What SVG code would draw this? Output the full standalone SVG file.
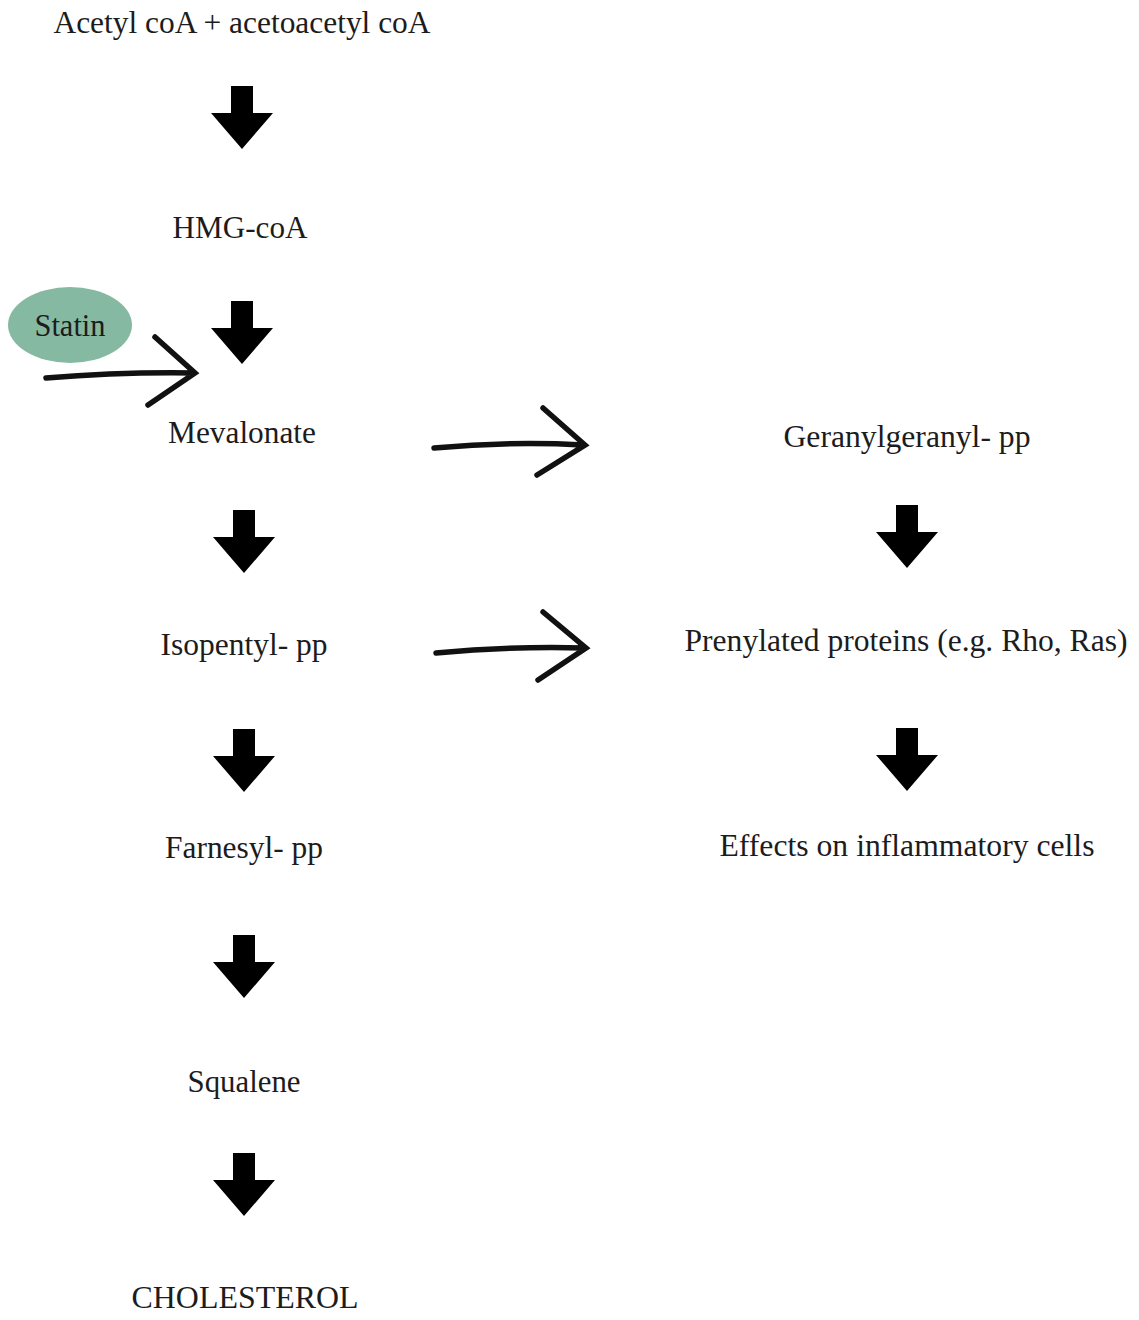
<svg xmlns="http://www.w3.org/2000/svg" width="1139" height="1320" viewBox="0 0 1139 1320">
<style>
.t{font-family:"Liberation Serif","Times New Roman",serif;font-size:31px;fill:#1c1c1c;text-anchor:middle}
.open{fill:none;stroke:#111;stroke-width:5.5;stroke-linecap:round;stroke-linejoin:miter}
.blk{fill:#000}
</style>
<defs>
<path id="down" d="M-11,0 H11 V27 H31 L0,63 L-31,27 H-11 Z"/>
</defs>
<rect width="1139" height="1320" fill="#fff"/>
<g id="connectors">
<use href="#down" class="blk" x="242" y="86"/>
<use href="#down" class="blk" x="242" y="301"/>
<use href="#down" class="blk" x="244" y="510"/>
<use href="#down" class="blk" x="244" y="729"/>
<use href="#down" class="blk" x="244" y="935"/>
<use href="#down" class="blk" x="244" y="1153"/>
<use href="#down" class="blk" x="907" y="505"/>
<use href="#down" class="blk" x="907" y="728"/>
<path class="open" d="M46,378 Q120,372 193,373 M155,337 L195,373 L148,405"/>
<path class="open" d="M434,448 Q510,441 583,445 M543,408 L585,445 L537,475"/>
<path class="open" d="M436,653 Q512,646 584,648 M543,612 L586,648 L538,680"/>
</g>
<g id="statin">
<ellipse cx="70" cy="325" rx="62" ry="38" fill="#86b9a2"/>
<text class="t" x="70" y="336" textLength="71" lengthAdjust="spacingAndGlyphs">Statin</text>
</g>
<g id="acetyl"><text class="t" x="242" y="33" textLength="377" lengthAdjust="spacingAndGlyphs">Acetyl coA + acetoacetyl coA</text></g>
<g id="hmg"><text class="t" x="240" y="238" textLength="135" lengthAdjust="spacingAndGlyphs">HMG-coA</text></g>
<g id="mevalonate"><text class="t" x="242" y="443" textLength="148" lengthAdjust="spacingAndGlyphs">Mevalonate</text></g>
<g id="isopentyl"><text class="t" x="244" y="655" textLength="167" lengthAdjust="spacingAndGlyphs">Isopentyl- pp</text></g>
<g id="farnesyl"><text class="t" x="244" y="858" textLength="158" lengthAdjust="spacingAndGlyphs">Farnesyl- pp</text></g>
<g id="squalene"><text class="t" x="244" y="1092" textLength="113" lengthAdjust="spacingAndGlyphs">Squalene</text></g>
<g id="cholesterol"><text class="t" x="245" y="1308" textLength="227" lengthAdjust="spacingAndGlyphs">CHOLESTEROL</text></g>
<g id="geranyl"><text class="t" x="907" y="447" textLength="247" lengthAdjust="spacingAndGlyphs">Geranylgeranyl- pp</text></g>
<g id="prenylated"><text class="t" x="906" y="651" textLength="443" lengthAdjust="spacingAndGlyphs">Prenylated proteins (e.g. Rho, Ras)</text></g>
<g id="effects"><text class="t" x="907" y="856" textLength="375" lengthAdjust="spacingAndGlyphs">Effects on inflammatory cells</text></g>
</svg>
